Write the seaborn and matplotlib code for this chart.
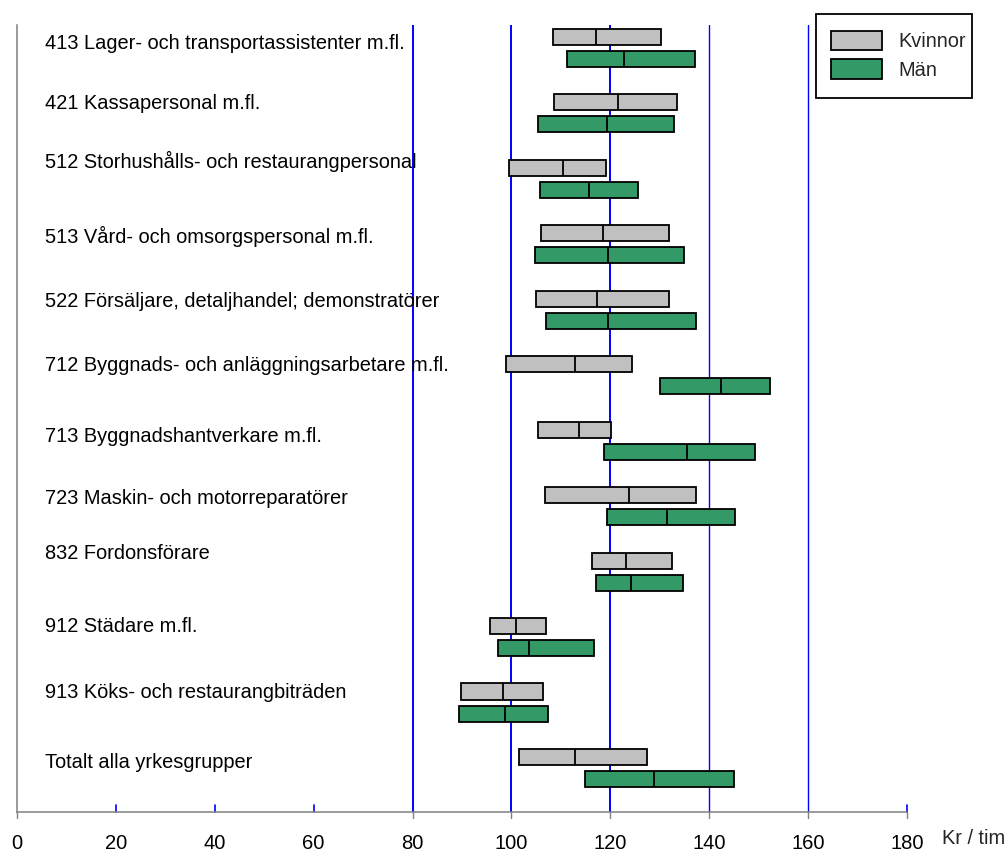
import matplotlib
matplotlib.use("Agg")
import matplotlib.pyplot as plt
from matplotlib.patches import Patch, Rectangle
import seaborn as sns
import pandas as pd

# ---------------- data ----------------
categories = [
    "413 Lager- och transportassistenter m.fl.",
    "421 Kassapersonal m.fl.",
    "512 Storhushålls- och restaurangpersonal",
    "513 Vård- och omsorgspersonal m.fl.",
    "522 Försäljare, detaljhandel; demonstratörer",
    "712 Byggnads- och anläggningsarbetare m.fl.",
    "713 Byggnadshantverkare m.fl.",
    "723 Maskin- och motorreparatörer",
    "832 Fordonsförare",
    "912 Städare m.fl.",
    "913 Köks- och restaurangbiträden",
    "Totalt alla yrkesgrupper",
]
series_names = ["Kvinnor", "Män"]

women_q1 = [108.4, 108.7, 99.6, 106.0, 105.0, 98.9, 105.3, 106.8, 116.3, 95.6, 89.8, 101.6]
women_med = [117.1, 121.6, 110.4, 118.5, 117.4, 112.9, 113.7, 123.8, 123.1, 100.9, 98.2, 112.9]
women_q3 = [130.2, 133.4, 119.2, 131.9, 131.8, 124.4, 120.1, 137.3, 132.4, 107.0, 106.3, 127.5]

men_q1 = [111.3, 105.3, 105.8, 104.8, 107.0, 130.0, 118.8, 119.4, 117.1, 97.2, 89.3, 114.8]
men_med = [122.8, 119.3, 115.6, 119.6, 119.6, 142.4, 135.5, 131.5, 124.1, 103.6, 98.7, 128.8]
men_q3 = [137.1, 132.9, 125.5, 134.9, 137.4, 152.3, 149.2, 145.3, 134.7, 116.6, 107.4, 145.1]

x_ticks = [0, 20, 40, 60, 80, 100, 120, 140, 160, 180]
x_tick_labels = ["0", "20", "40", "60", "80", "100", "120", "140", "160", "180"]
x_unit = "Kr / tim"

# ---------------- layout / style ----------------
colors = {"Kvinnor": "#C0C0C0", "Män": "#339966"}
row_offset = {"Kvinnor": 0.0, "Män": 0.336}
label_offsets = [0.10, 0.016, -0.092, 0.053, 0.046, 0.023, 0.107, 0.058, -0.113, 0.0, 0.009, 0.077]
grid_x = [80, 100, 120, 140, 160]
grid_lw = [1.4, 1.4, 1.4, 1.0, 1.0]

# long table for seaborn's box drawer: each box is q1 .. median .. q3
rows = []
for name, q1s, meds, q3s in [("Kvinnor", women_q1, women_med, women_q3),
                             ("Män", men_q1, men_med, men_q3)]:
    for i, (a, m, b) in enumerate(zip(q1s, meds, q3s)):
        pos = i + row_offset[name]
        for v in (a, a, m, b, b):
            rows.append({"pos": pos, "value": v, "Kön": name})
df = pd.DataFrame(rows)

sns.set_style("white")
plt.rcParams["font.family"] = ["Liberation Sans", "DejaVu Sans"]

W, H = 1008, 852
fig = plt.figure(figsize=(W / 100, H / 100), dpi=100)
ax = fig.add_axes([17 / W, 40 / H, 890 / W, 787 / H])

sns.boxplot(
    data=df, x="value", y="pos", hue="Kön", hue_order=series_names,
    orient="h", native_scale=True, dodge=False, palette=colors,
    saturation=1, width=0.744, whis=0, showcaps=False, showfliers=False,
    linecolor="black", linewidth=1.3, legend=False, ax=ax,
)

ax.set_xlim(0, 180)
ax.set_ylim(11.837, -0.179)
ax.set_yticks([])
ax.set_ylabel("")
ax.set_xlabel("")

for s in ["top", "right"]:
    ax.spines[s].set_visible(False)
for s in ["left", "bottom"]:
    ax.spines[s].set_color("#808080")
    ax.spines[s].set_linewidth(1.1)
    ax.spines[s].set_zorder(1)

ax.set_xticks(x_ticks)
ax.set_xticklabels(x_tick_labels, fontsize=14.5)
ax.tick_params(axis="x", length=0, pad=16, colors="black")

# gridlines and small tick marks
for gx, lw in zip(grid_x, grid_lw):
    ax.axvline(gx, 0, 1, color="#0000FF", lw=lw, zorder=0.5)
for gx in [0] + grid_x + [180]:
    ax.axvline(gx, -6 / 787, 0, color="#808080", lw=1.0, clip_on=False, zorder=0.5)
for gx in [20, 40, 60, 180]:
    ax.axvline(gx, 0, 7 / 787, color="#0000FF", lw=1.2, clip_on=False, zorder=0.5)

for i, (lab, off) in enumerate(zip(categories, label_offsets)):
    ax.text(5.7, i + off, lab, ha="left", va="center", fontsize=14.4, color="black", zorder=3)

fig.text(941.7 / W, 1 - 839 / H, x_unit, ha="left", va="center", fontsize=14.4)

# legend: frame box drawn separately, entries placed inside
fig.patches.append(Rectangle((816 / W, 1 - 98 / H), 156 / W, 84 / H,
                             transform=fig.transFigure, facecolor="white",
                             edgecolor="black", linewidth=1.3, zorder=4))
handles = [Patch(facecolor=colors[n], edgecolor="black", linewidth=1.3, label=n) for n in series_names]
leg = fig.legend(
    handles=handles, loc="upper left", bbox_to_anchor=(830.7 / W, 1 - 30.7 / H),
    bbox_transform=fig.transFigure, borderaxespad=0, borderpad=0, fontsize=14.4,
    handlelength=2.55, handleheight=1.12, handletextpad=0.85, labelspacing=0.4,
    frameon=False,
)
leg.set_zorder(5)

fig.savefig("out.png", dpi=100)
